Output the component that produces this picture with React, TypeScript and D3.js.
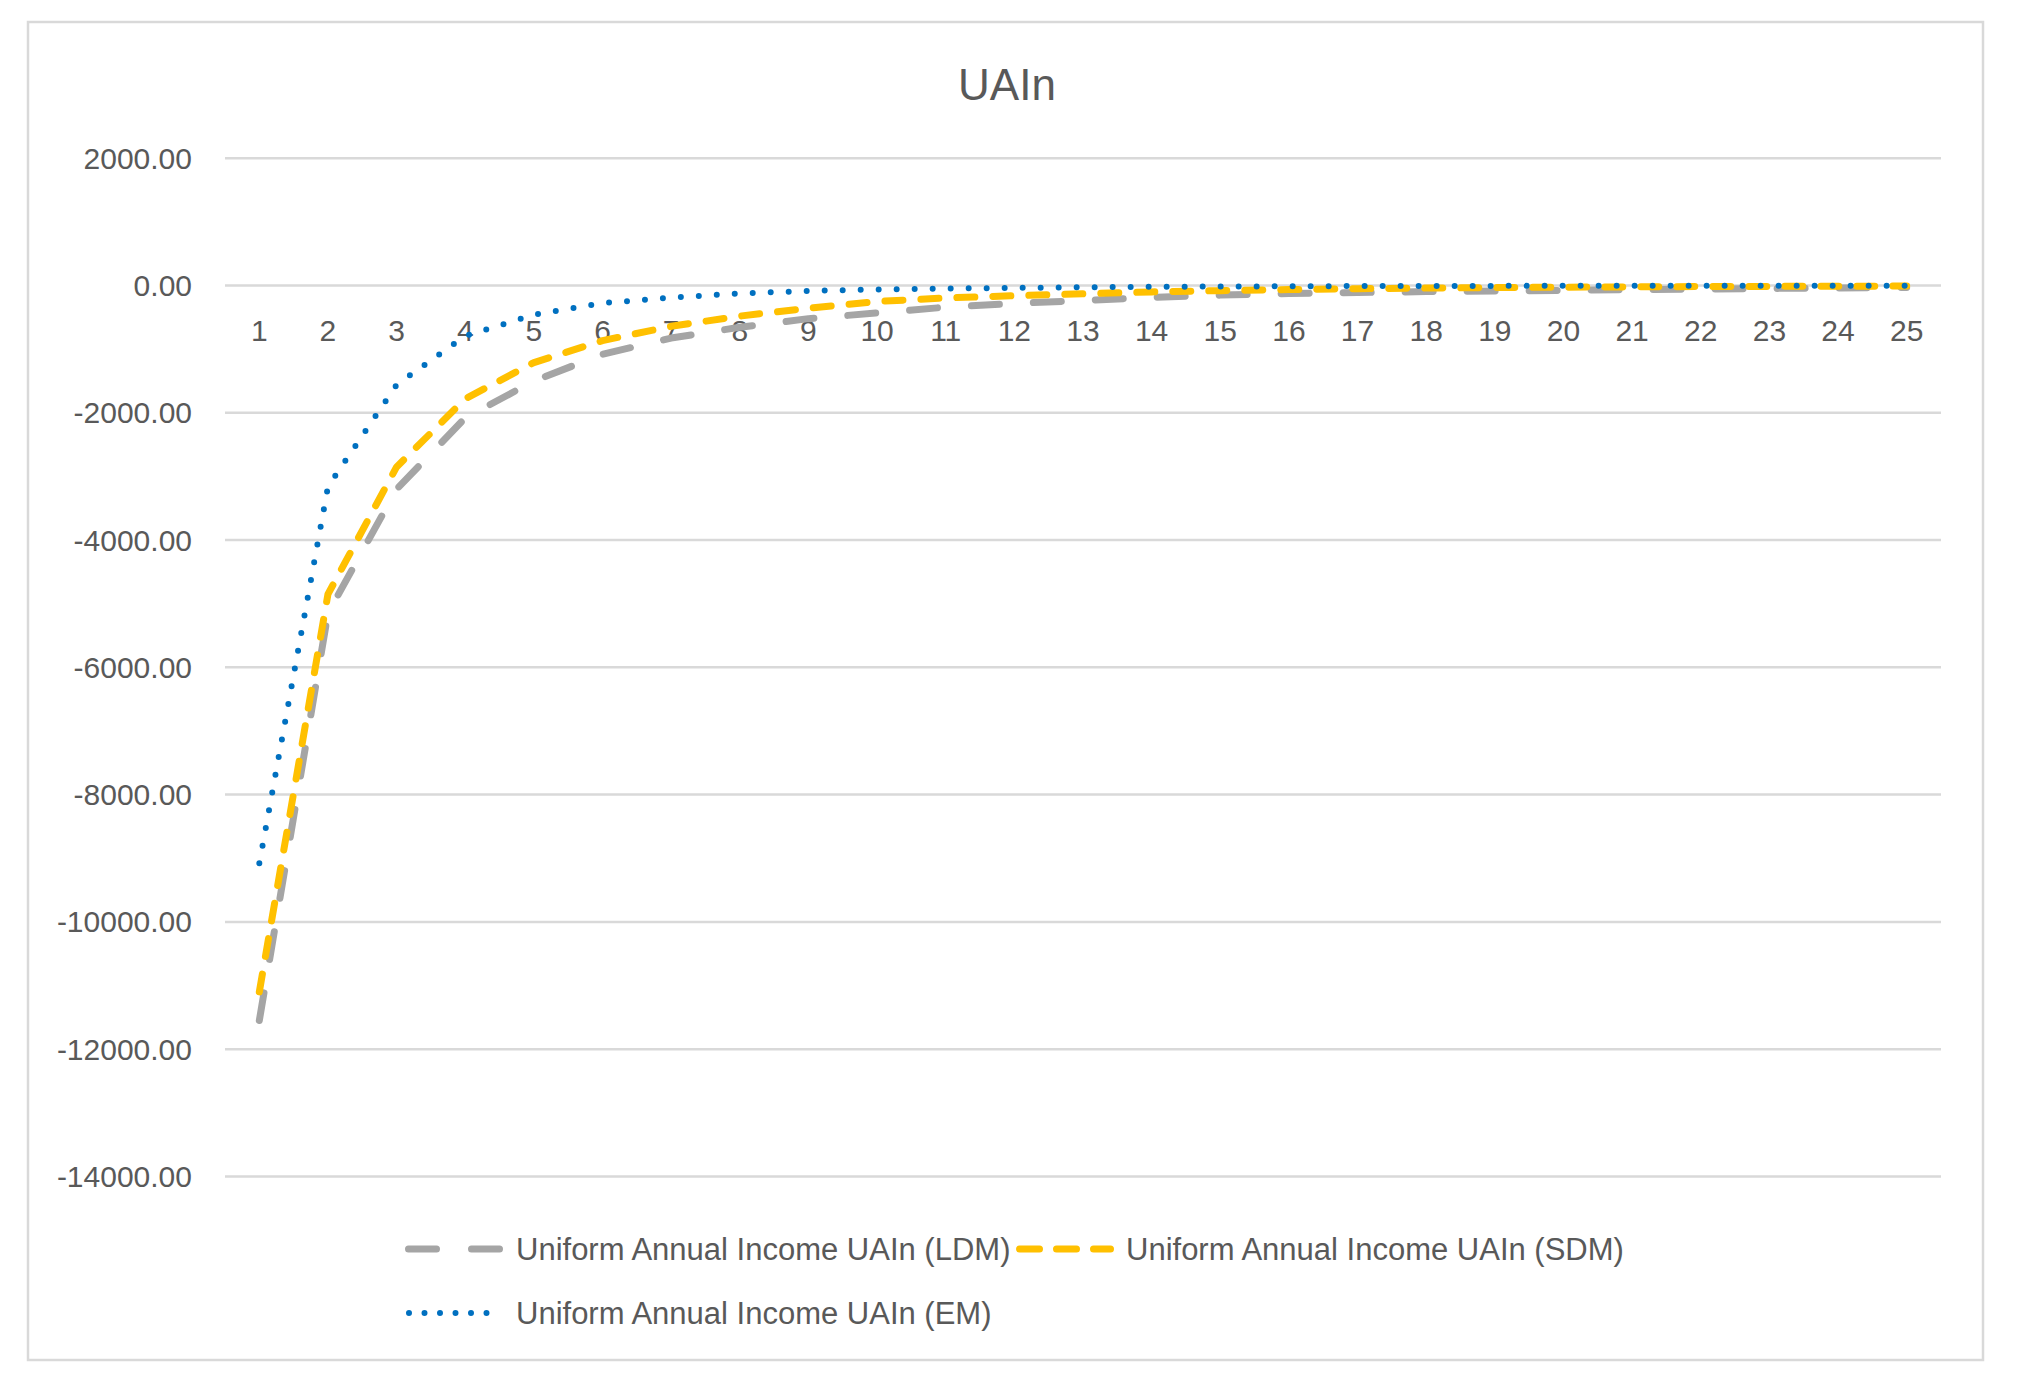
import React from "react";
import * as d3 from "d3";

const categories: string[] = Array.from({ length: 25 }, (_, i) => String(i + 1));

const ldm: number[] = [
  -11550, -5150, -3200, -2080, -1500, -1080, -825, -655, -520, -430, -340, -280, -235,
  -185, -150, -125, -110, -95, -85, -75, -65, -55, -45, -38, -30,
];
const sdm: number[] = [
  -11100, -4850, -2850, -1780, -1210, -865, -640, -480, -355, -250, -195, -160, -130,
  -100, -80, -63, -50, -40, -32, -25, -20, -16, -13, -10, -8,
];
const em: number[] = [
  -9080, -3160, -1560, -790, -460, -275, -190, -122, -85, -62, -47, -37, -27, -20, -15,
  -11, -8, -6, -5, -4, -3, -2, -2, -1, -1,
];

const yTicks: number[] = [2000, 0, -2000, -4000, -6000, -8000, -10000, -12000, -14000];

const title = "UAIn";
const seriesNames: string[] = [
  "Uniform Annual Income UAIn (LDM)",
  "Uniform Annual Income UAIn (SDM)",
  "Uniform Annual Income UAIn (EM)",
];

const W = 2018;
const H = 1398;
const FONT = "'Liberation Sans', Arial, sans-serif";
const TXT = "#595959";
const GRID = "#D9D9D9";

const styles = [
  { color: "#A5A5A5", width: 7, dash: "28 34", cap: "round" as const },
  { color: "#FFC000", width: 7, dash: "18 18", cap: "round" as const },
  { color: "#0070C0", width: 6, dash: "0 18", cap: "round" as const },
];

export default function App() {
  const x = d3.scaleBand<string>().domain(categories).range([225, 1941]);
  const y = d3.scaleLinear().domain([-14000, 2000]).range([1176.4, 158.3]);
  const cx = (c: string) => (x(c) as number) + x.bandwidth() / 2;

  const line = d3
    .line<number>()
    .x((_, i) => cx(categories[i]))
    .y((d) => y(d));

  const data = [ldm, sdm, em];

  return (
    <svg
      width={W}
      height={H}
      style={{ position: "absolute", left: 0, top: 0, background: "#fff" }}
      xmlns="http://www.w3.org/2000/svg"
    >
      <rect x={0} y={0} width={W} height={H} fill="#fff" />
      <rect x={28} y={22} width={1955} height={1338} fill="#fff" stroke={GRID} strokeWidth={2.5} />
      <text
        x={1007}
        y={100}
        textAnchor="middle"
        fontFamily={FONT}
        fontSize={44}
        fill={TXT}
      >
        {title}
      </text>
      {yTicks.map((t) => (
        <g key={t}>
          <line x1={225} x2={1941} y1={y(t)} y2={y(t)} stroke={GRID} strokeWidth={2.5} />
          <text
            x={192}
            y={y(t)}
            dy="0.35em"
            textAnchor="end"
            fontFamily={FONT}
            fontSize={30}
            fill={TXT}
          >
            {t.toFixed(2)}
          </text>
        </g>
      ))}
      {categories.map((c) => (
        <text
          key={c}
          x={cx(c)}
          y={330}
          dy="0.35em"
          textAnchor="middle"
          fontFamily={FONT}
          fontSize={30}
          fill={TXT}
        >
          {c}
        </text>
      ))}
      {data.map((d, i) => (
        <path
          key={i}
          d={line(d) || ""}
          fill="none"
          stroke={styles[i].color}
          strokeWidth={styles[i].width}
          strokeDasharray={styles[i].dash}
          strokeLinecap={styles[i].cap}
          strokeLinejoin="round"
        />
      ))}
      {/* legend */}
      <g>
        <line x1={408.5} x2={499.5} y1={1249} y2={1249} stroke={styles[0].color} strokeWidth={7}
          strokeDasharray="28 35" strokeLinecap="round" />
        <text x={516} y={1249} dy="0.35em" fontFamily={FONT} fontSize={31} fill={TXT}>
          {seriesNames[0]}
        </text>
        <line x1={1019.5} x2={1110.5} y1={1249} y2={1249} stroke={styles[1].color} strokeWidth={7}
          strokeDasharray="20 17" strokeLinecap="round" />
        <text x={1126} y={1249} dy="0.35em" fontFamily={FONT} fontSize={31} fill={TXT}>
          {seriesNames[1]}
        </text>
        <line x1={409} x2={502} y1={1313} y2={1313} stroke={styles[2].color} strokeWidth={6}
          strokeDasharray="0 15.5" strokeLinecap="round" />
        <text x={516} y={1313} dy="0.35em" fontFamily={FONT} fontSize={31} fill={TXT}>
          {seriesNames[2]}
        </text>
      </g>
    </svg>
  );
}
